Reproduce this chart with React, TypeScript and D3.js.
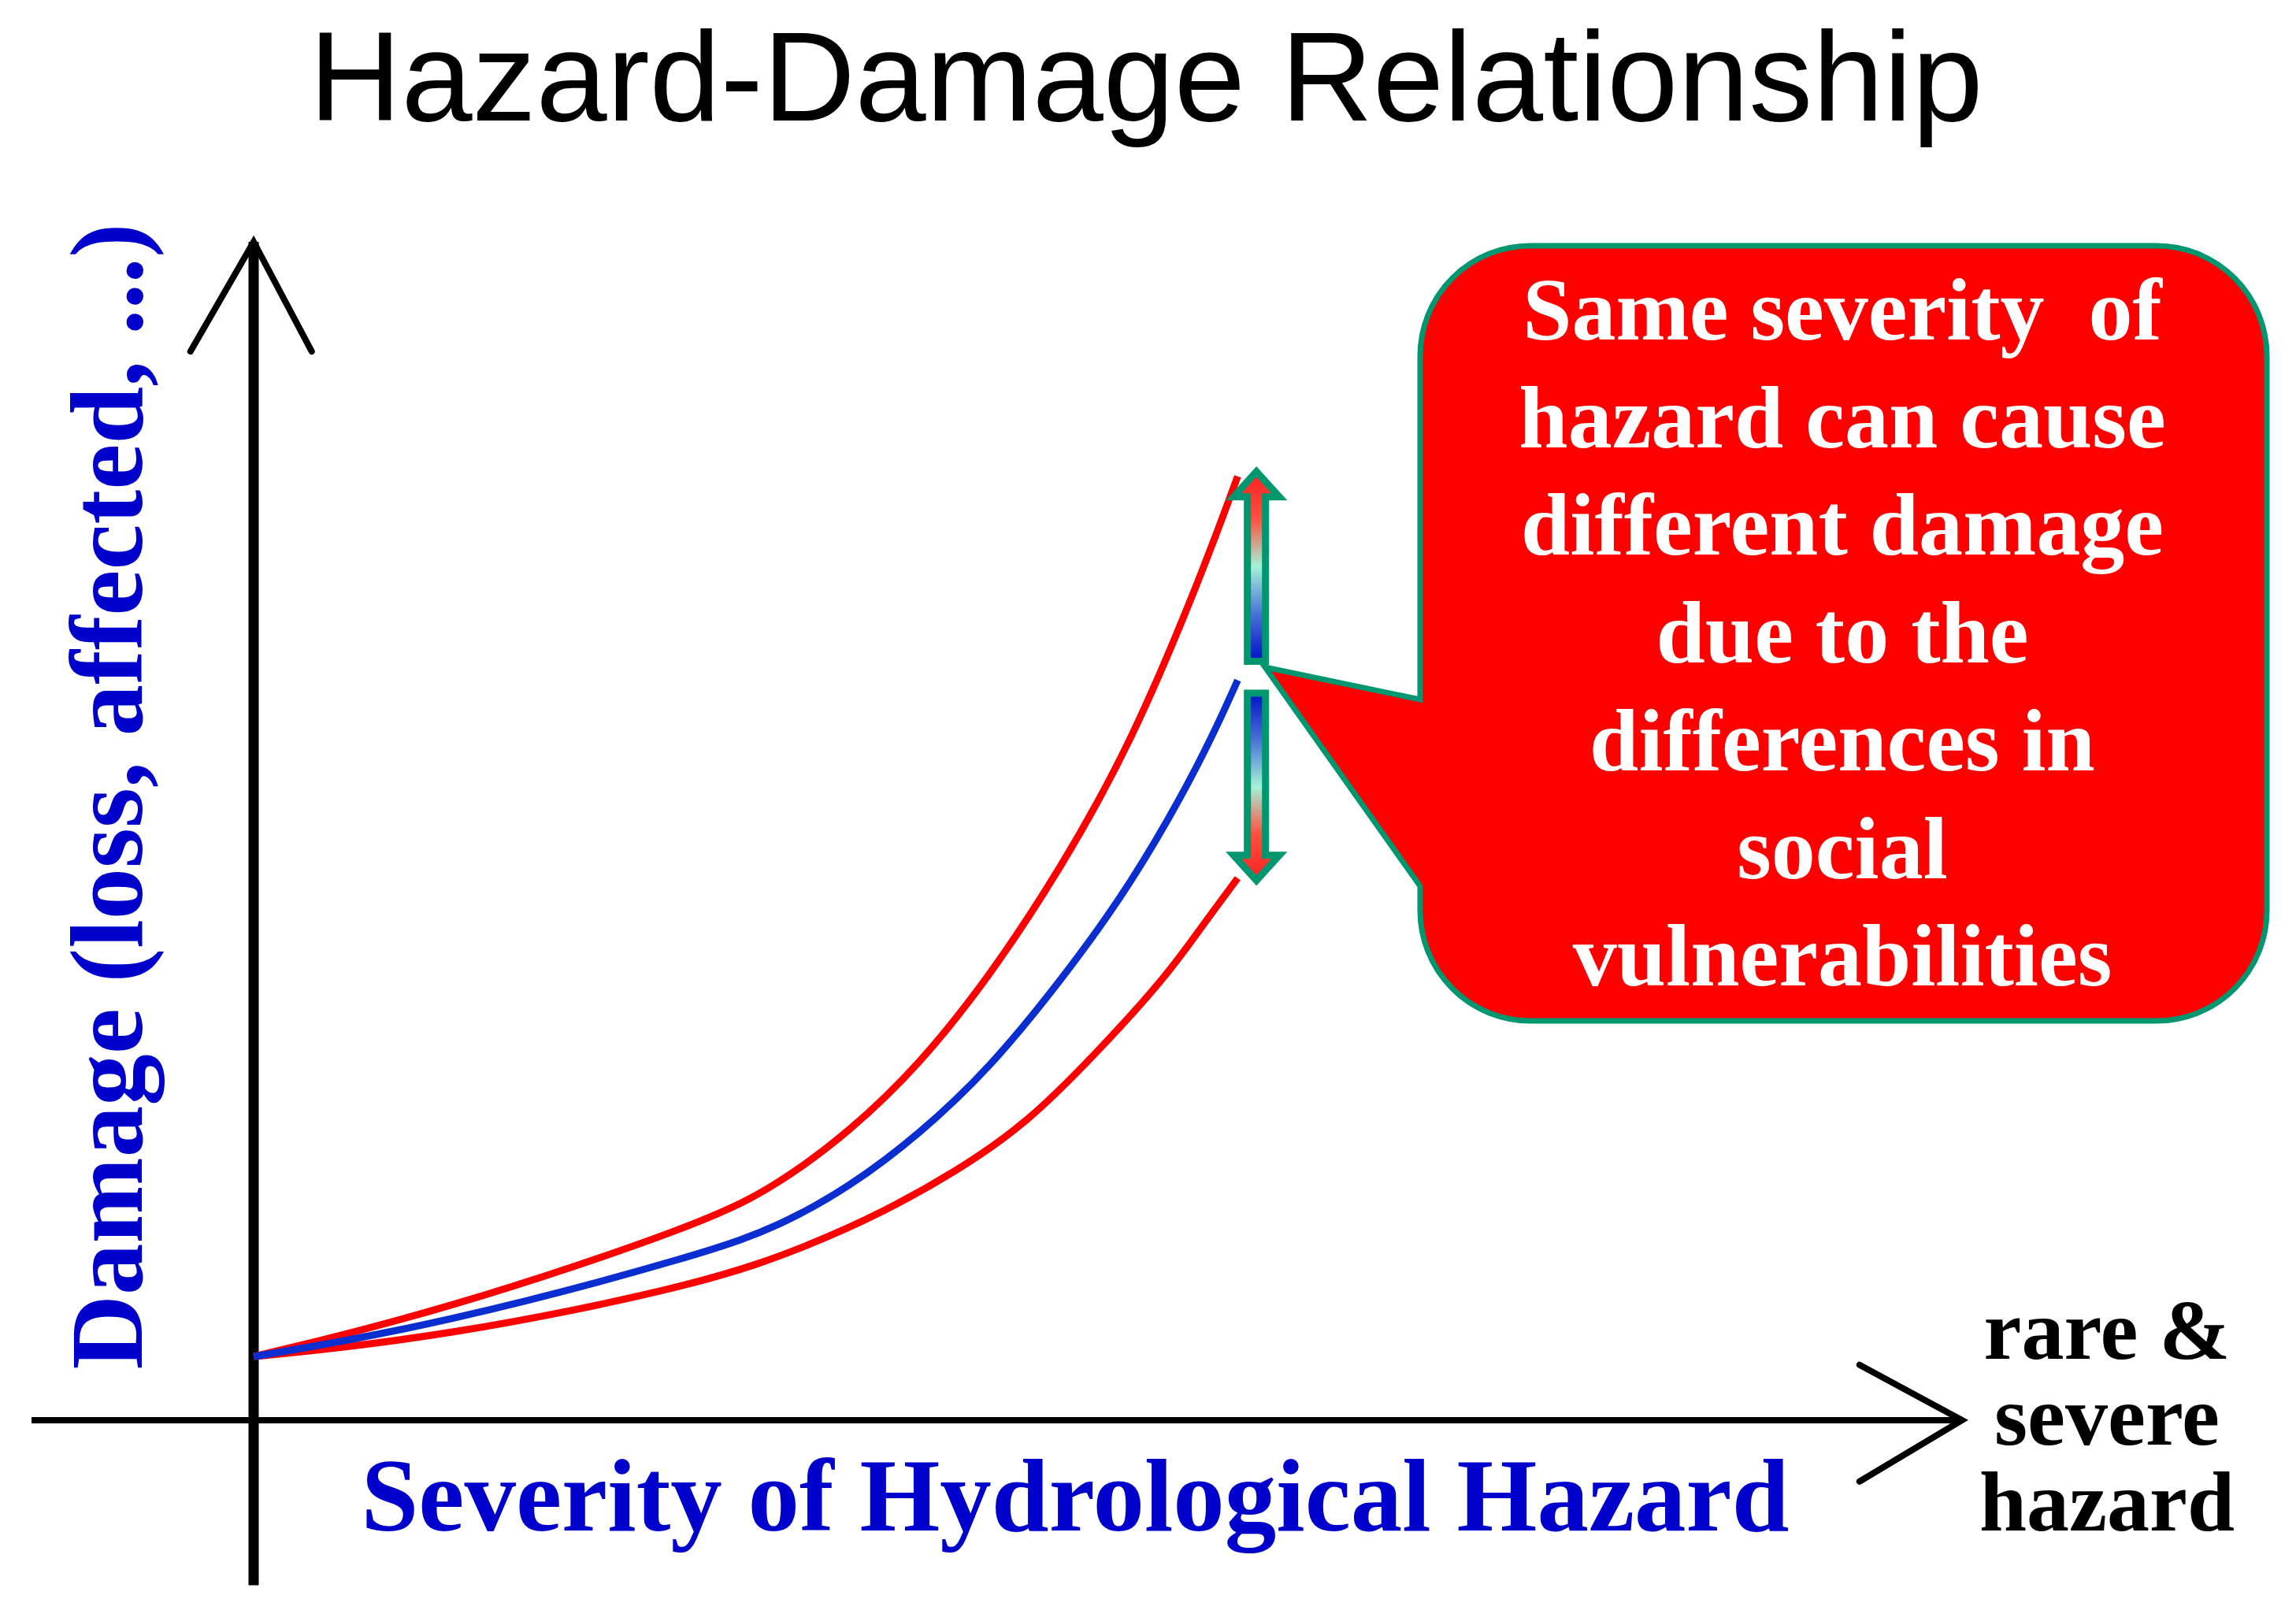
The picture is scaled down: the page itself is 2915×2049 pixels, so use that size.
import * as d3 from 'd3';

const W = 2915;
const H = 2049;

// severity (x) and damage (y) in arbitrary 0-100 units
const upperX = [0, 10.9, 26.6, 30.8, 34.9, 39.0, 43.1, 47.2, 51.4, 55.5, 57.6];
const upperY = [5.4, 9.2, 16.8, 20.1, 24.5, 30.2, 37.7, 46.7, 57.5, 71.8, 80.1];
const meanX = [0, 10.9, 26.6, 30.8, 34.9, 39.0, 43.1, 47.2, 51.4, 55.5, 57.6];
const meanY = [5.4, 8.1, 14.2, 16.5, 19.8, 24.3, 29.9, 37.2, 45.5, 56.0, 62.8];
const lowerX = [0, 10.9, 26.6, 32.8, 36.9, 41.0, 45.2, 49.3, 53.4, 55.5, 57.6];
const lowerY = [5.4, 7.0, 11.6, 15.0, 17.7, 21.0, 25.1, 31.1, 37.6, 41.9, 46.0];

// spread arrows at the end of the curves
const spreadX = 58.7;
const upperArrow = [80.5, 64.4]; // tip, tail
const lowerArrow = [45.8, 61.7];

const titleText = 'Hazard-Damage Relationship';
const xLabel = 'Severity of Hydrological Hazard';
const yLabel = 'Damage (loss, affected, ...)';
const endLabel = ['rare &', 'severe', 'hazard'];
const calloutLines = [
  'Same severity  of',
  'hazard can cause',
  'different damage',
  'due to the',
  'differences in',
  'social',
  'vulnerabilities',
];

const serif = '"Liberation Serif", "Times New Roman", serif';
const sans = '"Liberation Sans", Arial, sans-serif';
const green = '#009670';

export default function App() {
  const x = d3.scaleLinear().domain([0, 100]).range([322, 2491]);
  const y = d3.scaleLinear().domain([0, 100]).range([1803, 307]);

  const line = d3
    .line<[number, number]>()
    .x((d) => x(d[0]))
    .y((d) => y(d[1]))
    .curve(d3.curveBasis);

  const series = [
    { xs: upperX, ys: upperY, color: '#ff0000' },
    { xs: lowerX, ys: lowerY, color: '#ff0000' },
    { xs: meanX, ys: meanY, color: '#0a2ed0' },
  ];

  // block arrow polygon, pointing from tail to tip
  const arrowPath = (tipV: number, tailV: number) => {
    const cx = x(spreadX);
    const tip = y(tipV);
    const tail = y(tailV);
    const dir = tail > tip ? 1 : -1;
    const hw = 29;
    const hh = 32;
    const sw = 11.5;
    const hb = tip + dir * hh;
    return `M${cx},${tip} L${cx + hw},${hb} L${cx + sw},${hb} L${cx + sw},${tail} L${cx - sw},${tail} L${cx - sw},${hb} L${cx - hw},${hb} Z`;
  };

  // callout box with pointer
  const L = 1803, R = 2878, T = 312, B = 1296, r = 140;
  const tipX = x(59.2), tipY = y(63.9);
  const callout = `M${L + r},${T} H${R - r} A${r},${r} 0 0 1 ${R},${T + r} V${B - r} A${r},${r} 0 0 1 ${R - r},${B} H${L + r} A${r},${r} 0 0 1 ${L},${B - r} V1125 L${tipX},${tipY} L${L},888 V${T + r} A${r},${r} 0 0 1 ${L + r},${T} Z`;

  return (
    <svg
      width={W}
      height={H}
      style={{ position: 'absolute', left: 0, top: 0, background: '#fff' }}
    >
      <defs>
        <linearGradient id="gUp" gradientUnits="userSpaceOnUse" x1="0" x2="0" y1={y(upperArrow[0])} y2={y(upperArrow[1])}>
          <stop offset="0" stopColor="#ff2020" />
          <stop offset="0.25" stopColor="#ff5040" />
          <stop offset="0.5" stopColor="#a4f2d8" />
          <stop offset="0.75" stopColor="#4a72d6" />
          <stop offset="1" stopColor="#0010c8" />
        </linearGradient>
        <linearGradient id="gDown" gradientUnits="userSpaceOnUse" x1="0" x2="0" y1={y(lowerArrow[1])} y2={y(lowerArrow[0])}>
          <stop offset="0" stopColor="#0010c8" />
          <stop offset="0.25" stopColor="#4a72d6" />
          <stop offset="0.5" stopColor="#a4f2d8" />
          <stop offset="0.75" stopColor="#ff5040" />
          <stop offset="1" stopColor="#ff2020" />
        </linearGradient>
      </defs>

      <text x={1455} y={153} textAnchor="middle" fontFamily={sans} fontSize={162} fill="#000">
        {titleText}
      </text>

      {/* axes */}
      <line x1={x(-13)} x2={x(100)} y1={y(0)} y2={y(0)} stroke="#000" strokeWidth={8} />
      <polyline
        points={`${x(94)},${y(4.7)} ${x(100)},${y(0)} ${x(94)},${y(-5.2)}`}
        fill="none" stroke="#000" strokeWidth={8} strokeLinecap="round" strokeLinejoin="miter"
      />
      <line x1={x(0)} x2={x(0)} y1={y(100)} y2={y(-14)} stroke="#000" strokeWidth={13} />
      <polyline
        points={`${x(-3.7)},${y(90.7)} ${x(0)},${y(100)} ${x(3.4)},${y(90.7)}`}
        fill="none" stroke="#000" strokeWidth={8} strokeLinecap="round" strokeLinejoin="miter"
      />

      {/* curves */}
      {series.map((s, i) => (
        <path
          key={i}
          d={line(s.xs.map((v, j) => [v, s.ys[j]]) as [number, number][]) || ''}
          fill="none"
          stroke={s.color}
          strokeWidth={9}
        />
      ))}

      {/* spread arrows */}
      <path d={arrowPath(upperArrow[0], upperArrow[1])} fill="url(#gUp)" stroke={green} strokeWidth={9} />
      <path d={arrowPath(lowerArrow[0], lowerArrow[1])} fill="url(#gDown)" stroke={green} strokeWidth={9} />

      {/* callout */}
      <path d={callout} fill="#ff0000" stroke={green} strokeWidth={7} />
      {calloutLines.map((t, i) => (
        <text
          key={t}
          x={2339}
          y={431 + i * 136.7}
          textAnchor="middle"
          fontFamily={serif}
          fontWeight="bold"
          fontSize={112}
          fill="#fff"
          style={{ whiteSpace: 'pre' }}
        >
          {t}
        </text>
      ))}

      {/* axis labels */}
      <text x={1365} y={1943} textAnchor="middle" fontFamily={serif} fontWeight="bold" fontSize={131} fill="#0000cc">
        {xLabel}
      </text>
      <text
        transform="translate(180,1011) rotate(-90)"
        textAnchor="middle"
        fontFamily={serif}
        fontWeight="bold"
        fontSize={131}
        fill="#0000cc"
      >
        {yLabel}
      </text>
      {endLabel.map((t, i) => (
        <text
          key={t}
          x={2675}
          y={1725 + i * 109}
          textAnchor="middle"
          fontFamily={serif}
          fontWeight="bold"
          fontSize={108}
          fill="#000"
        >
          {t}
        </text>
      ))}
    </svg>
  );
}
